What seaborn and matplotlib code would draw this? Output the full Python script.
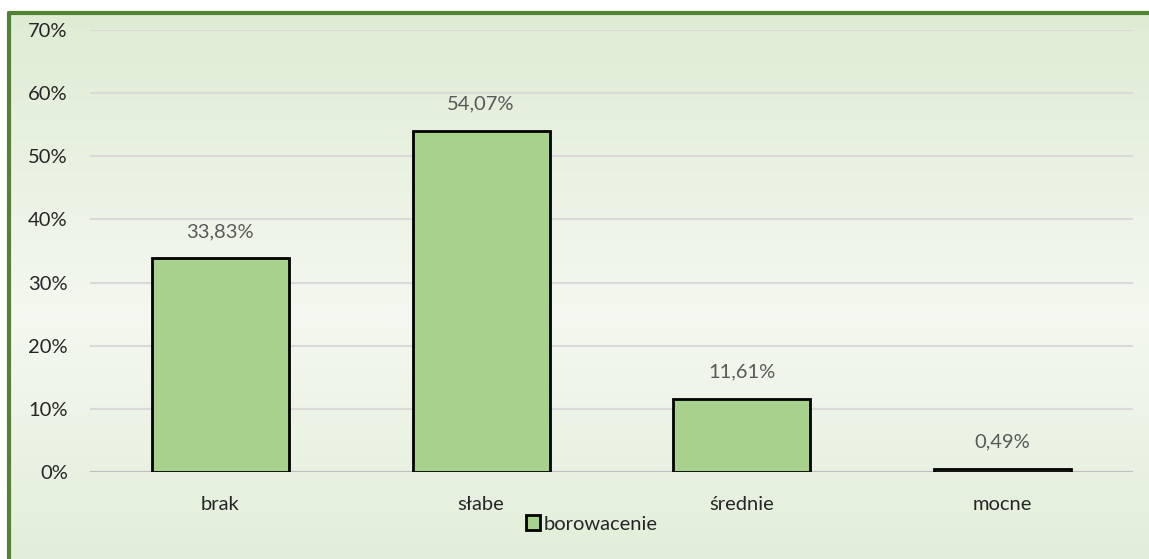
import numpy as np
import pandas as pd
import seaborn as sns
import matplotlib.pyplot as plt
from matplotlib.patches import Patch
from matplotlib.ticker import PercentFormatter

categories = ['brak', 'słabe', 'średnie', 'mocne']
values = [33.83, 54.07, 11.61, 0.49]
series_name = 'borowacenie'

df = pd.DataFrame({'kat': categories, 'proc': values})

sns.set_style('white')
plt.rcParams['font.family'] = ['Lato', 'DejaVu Sans']

fig = plt.figure(figsize=(11.49, 5.59), dpi=100)

# tło z gradientem i zieloną ramką
bg = fig.add_axes([0, 0, 1, 1], zorder=0)
bg.set_axis_off()
top = np.array([0xdf, 0xec, 0xd4]) / 255
mid = np.array([0xf4, 0xf8, 0xf0]) / 255
bot = np.array([0xe2, 0xee, 0xd9]) / 255
t = np.linspace(0, 1, 300)[:, None]
grad = np.where(t < 0.55, top + (mid - top) * (t / 0.55), mid + (bot - mid) * ((t - 0.55) / 0.45))
bg.imshow(grad[:, None, :], aspect='auto', extent=[8 / 1149, 1.01, -0.01, 1 - 13 / 559],
          transform=bg.transAxes)
bg.set_xlim(0, 1)
bg.set_ylim(0, 1)
bg.plot([9 / 1149, 9 / 1149], [-0.01, 1 - 13 / 559], color='#548235', lw=3, transform=bg.transAxes)
bg.plot([9 / 1149, 1.01], [1 - 13 / 559, 1 - 13 / 559], color='#548235', lw=3, transform=bg.transAxes)

ax = fig.add_axes([90 / 1149, 87 / 559, 1043 / 1149, 442 / 559], zorder=1)
ax.patch.set_alpha(0)
sns.barplot(data=df, x='kat', y='proc', color='#a9d18e', edgecolor='black',
            linewidth=2, width=0.525, saturation=1, ax=ax, zorder=3)

ax.set_ylim(0, 70)
ax.set_yticks(range(0, 71, 10))
ax.yaxis.set_major_formatter(PercentFormatter(decimals=0))
ax.grid(axis='y', color='#d9d9d9', lw=1.5, zorder=0)
for s in ax.spines.values():
    s.set_visible(False)
ax.axhline(0, color='#bfbfbf', lw=1.5, zorder=2)
ax.set_xlabel('')
ax.set_ylabel('')
ax.tick_params(axis='both', length=0, labelsize=14.5, colors='#262626')
ax.tick_params(axis='y', pad=16)
ax.tick_params(axis='x', pad=17)

for i, v in enumerate(values):
    ax.text(i, v + 2.9, f'{v:.2f}%'.replace('.', ','), ha='center', va='bottom',
            fontsize=14.5, color='#595959')

handle = Patch(facecolor='#a9d18e', edgecolor='black', linewidth=2)
fig.legend([handle], [series_name], loc='center', bbox_to_anchor=(592 / 1149, 1 - 524 / 559),
           frameon=False, fontsize=14.5, handlelength=0.7, handleheight=0.7,
           handletextpad=0.2, borderpad=0)

fig.savefig('out.png', dpi=100)
